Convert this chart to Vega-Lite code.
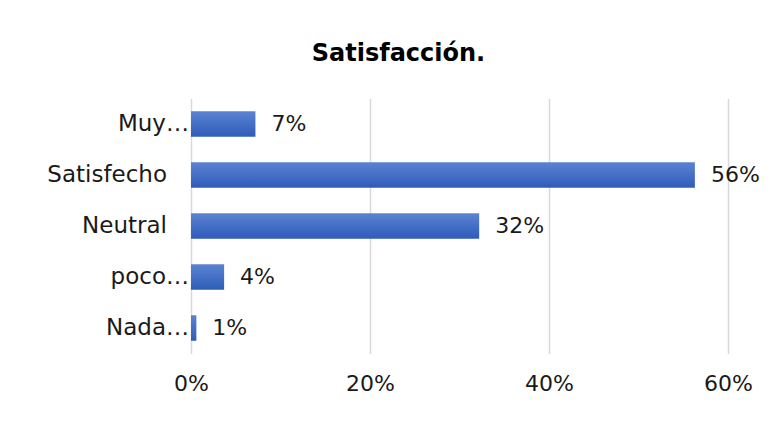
{
  "$schema": "https://vega.github.io/schema/vega-lite/v6.json",
  "width": 537,
  "height": 255,
  "autosize": {"type": "none"},
  "padding": {"left": 191, "top": 98.5, "right": 51, "bottom": 67.5},
  "background": "white",
  "title": {
    "text": "Satisfacción.",
    "font": "DejaVu Sans",
    "fontSize": 24,
    "fontWeight": "bold",
    "color": "#000000",
    "anchor": "middle",
    "frame": "group",
    "dx": -61,
    "baseline": "alphabetic",
    "offset": 14
  },
  "data": {
    "values": [
      {"categoria": "Muy…", "valor": 0.072, "truncado": true},
      {"categoria": "Satisfecho", "valor": 0.563, "truncado": false},
      {"categoria": "Neutral", "valor": 0.322, "truncado": false},
      {"categoria": "poco…", "valor": 0.037, "truncado": true},
      {"categoria": "Nada…", "valor": 0.006, "truncado": true}
    ]
  },
  "encoding": {
    "y": {
      "field": "categoria",
      "type": "nominal",
      "sort": null,
      "scale": {"paddingInner": 0.5, "paddingOuter": 0.25},
      "axis": {
        "title": null,
        "domain": false,
        "ticks": false,
        "grid": false,
        "labels": false
      }
    },
    "x": {
      "field": "valor",
      "type": "quantitative",
      "scale": {"domain": [0, 0.6]},
      "axis": {
        "title": null,
        "format": ".0%",
        "values": [0, 0.2, 0.4, 0.6],
        "domain": false,
        "ticks": false,
        "grid": true,
        "gridColor": "#d9d9d9",
        "gridWidth": 1.5,
        "labelFont": "DejaVu Sans",
        "labelFontSize": 22,
        "labelColor": "#1a1a1a",
        "labelPadding": 20,
        "labelFlush": false
      }
    }
  },
  "layer": [
    {
      "mark": {
        "type": "bar",
        "color": {
          "gradient": "linear",
          "x1": 0, "y1": 0, "x2": 0, "y2": 1,
          "stops": [
            {"offset": 0, "color": "#5b83d3"},
            {"offset": 1, "color": "#2f5cb9"}
          ]
        }
      }
    },
    {
      "mark": {
        "type": "text",
        "align": "left",
        "baseline": "middle",
        "dx": 16,
        "font": "DejaVu Sans",
        "fontSize": 22,
        "color": "#1a1a1a"
      },
      "encoding": {
        "text": {"field": "valor", "type": "quantitative", "format": ".0%"}
      }
    },
    {
      "transform": [{"filter": "datum.truncado"}],
      "mark": {
        "type": "text",
        "align": "right",
        "baseline": "middle",
        "dx": -2,
        "font": "DejaVu Sans",
        "fontSize": 23,
        "color": "#1a1a1a"
      },
      "encoding": {
        "x": {"datum": 0},
        "text": {"field": "categoria"}
      }
    },
    {
      "transform": [{"filter": "!datum.truncado"}],
      "mark": {
        "type": "text",
        "align": "right",
        "baseline": "middle",
        "dx": -24,
        "font": "DejaVu Sans",
        "fontSize": 23,
        "color": "#1a1a1a"
      },
      "encoding": {
        "x": {"datum": 0},
        "text": {"field": "categoria"}
      }
    }
  ],
  "config": {"view": {"stroke": null}}
}
